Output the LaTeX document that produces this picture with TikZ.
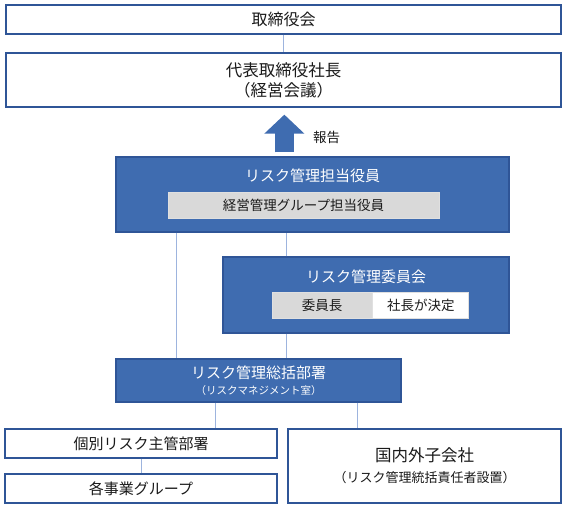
\documentclass[tikz,border=0pt]{standalone}
\usepackage{fontspec}
\setmainfont{Noto Sans CJK JP}
\usepackage{xcolor}
\definecolor{edgeBlue}{HTML}{2F5597}
\definecolor{fillBlue}{HTML}{3F6CB0}
\definecolor{tapBlue}{HTML}{9DB4DE}
\definecolor{barGray}{HTML}{D9D9D9}
\definecolor{inkDark}{HTML}{1A1A1A}
\usetikzlibrary{positioning,calc,arrows.meta}
\tikzset{%
  whiteBox/.style={%
    rectangle,
    draw=edgeBlue,
    fill=white,
    line width=1.3pt,
    inner sep=0pt,
    align=center,
    text=inkDark,
    font=\fontsize{15}{20}\selectfont
  },
  blueBox/.style={%
    rectangle,
    draw=edgeBlue,
    fill=fillBlue,
    line width=1.3pt,
    inner sep=0pt
  },
  blueTitle/.style={%
    inner sep=0pt,
    text=white,
    font=\fontsize{15}{19}\selectfont
  },
  grayBar/.style={%
    rectangle,
    draw=black!12,
    fill=barGray,
    line width=0.8pt,
    inner sep=0pt,
    text=inkDark,
    font=\fontsize{13.5}{16}\selectfont
  },
  tapLine/.style={%
    draw=tapBlue,
    line width=1pt
  },
  reportArrow/.style={%
    -{Triangle[width=39pt,length=19pt]},
    line width=19pt,
    color=fillBlue
  }
}

\begin{document}
\begin{tikzpicture}[x=1pt,y=-1pt]
  \useasboundingbox (0,0) rectangle (567,508);

  % top management
  \node[whiteBox, minimum width=555, minimum height=29, font=\fontsize{16}{20}\selectfont] (board) at (283.5,19.5) {取締役会};
  \node[whiteBox, minimum width=555, minimum height=54, font=\fontsize{16.5}{20}\selectfont] (ceo) at (283.5,80) {代表取締役社長\\（経営会議）};
  \draw[tapLine] (board) -- (ceo);

  % risk officer
  \node[blueBox, minimum width=393, minimum height=75] (riskOfficer) at (312.5,194.5) {};
  \node[blueTitle] (riskOfficerTitle) at (312.5,176) {リスク管理担当役員};
  \node[grayBar, minimum width=271, minimum height=26] (dutyBar) at (303.5,205) {経営管理グループ担当役員};

  \coordinate (arrowBase) at ([xshift=169pt,yshift=4pt]riskOfficer.north west);
  \draw[reportArrow] (arrowBase) -- ($(arrowBase |- ceo.south)+(0,7)$);
  \node[inner sep=0pt, text=inkDark, font=\fontsize{13.5}{15}\selectfont] (reportLabel) at (326.5,137) {報告};

  % committee
  \node[blueBox, minimum width=286, minimum height=76] (committee) at (366,295) {};
  \node[blueTitle] (committeeTitle) at (366,277) {リスク管理委員会};
  \node[grayBar, minimum width=100, minimum height=26] (chairCell) at (322,305) {委員長};
  \node[grayBar, fill=white, minimum width=96, minimum height=26, right=0pt of chairCell] (chairPick) {社長が決定};

  % general risk dept
  \node[blueBox, minimum width=285, minimum height=43, align=center, text=white] (total) at (258.5,380.5)
    {{\fontsize{15}{17}\selectfont リスク管理総括部署}\\[4pt]{\fontsize{10.5}{13}\selectfont （リスクマネジメント室）}};

  \coordinate (midTap) at ([xshift=64pt]committee.north west);
  \draw[tapLine] (midTap) -- (midTap |- riskOfficer.south);
  \draw[tapLine] ([xshift=64pt]committee.south west) -- (total.north -| midTap);
  \draw[tapLine] ([xshift=61pt]riskOfficer.south west) -- ([xshift=61pt]total.north west);

  % lower units
  \node[whiteBox, minimum width=272, minimum height=29] (dept) at (141,443.5) {個別リスク主管部署};
  \node[whiteBox, minimum width=272, minimum height=29] (bizGroup) at (141,488.5) {各事業グループ};
  \node[whiteBox, minimum width=273, minimum height=74] (subsidiary) at (424.5,466)
    {{\fontsize{16.5}{19}\selectfont 国内外子会社}\\[1pt]{\fontsize{13}{15}\selectfont （リスク管理統括責任者設置）}};

  \coordinate (deptTap) at ([xshift=100pt]total.south west);
  \coordinate (subTap) at ([xshift=242pt]total.south west);
  \draw[tapLine] (deptTap) -- (dept.north -| deptTap);
  \draw[tapLine] (subTap) -- (subsidiary.north -| subTap);
  \draw[tapLine] (dept) -- (bizGroup);
\end{tikzpicture}
\end{document}
